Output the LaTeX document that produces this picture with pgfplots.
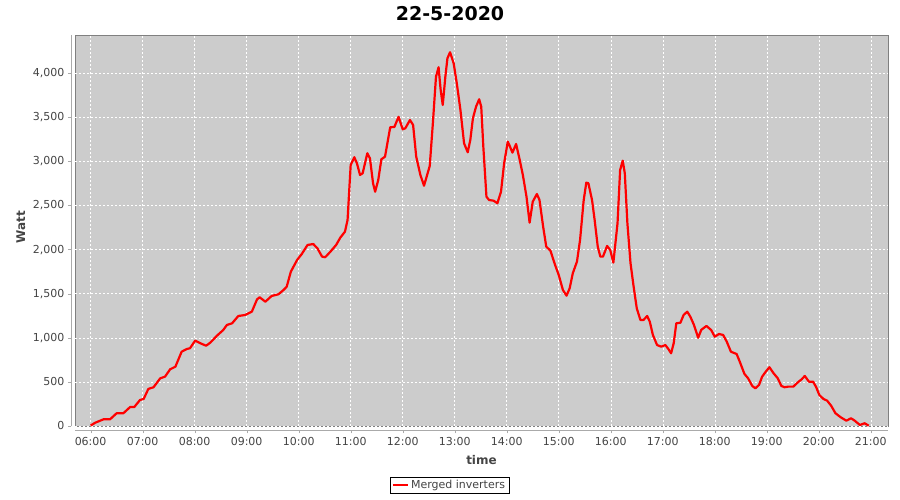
\documentclass[border=0pt]{standalone}
\usepackage{fontspec}
\setmainfont{DejaVu Sans}
\usepackage{pgfplots}
\pgfplotsset{compat=1.18}
\usepackage{pgfplotstable}

\definecolor{plotbg}{HTML}{CCCCCC}
\definecolor{framegray}{HTML}{808080}
\definecolor{axisgray}{HTML}{AAAAAA}
\definecolor{ticktext}{HTML}{444444}

% power in W, time in decimal hours
\pgfplotstableread{
t     w
6.00  5
6.09  37
6.25  76
6.375 76
6.50  144
6.63  144
6.76  215
6.84  215
6.95  295
7.02  306
7.11  420
7.21  439
7.34  541
7.43  559
7.53  643
7.63  672
7.75  842
7.85  873
7.91  881
8.01  967
8.11  938
8.22  910
8.30  944
8.43  1024
8.55  1088
8.62  1145
8.72  1164
8.84  1247
8.97  1258
9.10  1296
9.20  1436
9.25  1459
9.36  1409
9.48  1474
9.61  1493
9.71  1542
9.77  1579
9.85  1750
9.97  1882
10.06 1950
10.17 2052
10.28 2063
10.36 2015
10.45 1920
10.51 1913
10.61 1976
10.72 2052
10.80 2135
10.89 2203
10.94 2336
10.98 2752
11.00 2959
11.07 3047
11.12 2978
11.18 2846
11.23 2865
11.32 3092
11.37 3035
11.43 2752
11.47 2656
11.53 2789
11.59 3024
11.66 3053
11.76 3387
11.84 3390
11.92 3505
12.00 3364
12.05 3375
12.14 3469
12.20 3413
12.26 3053
12.34 2846
12.41 2724
12.52 2948
12.58 3432
12.64 3960
12.69 4067
12.73 3810
12.77 3639
12.82 3960
12.86 4169
12.91 4237
12.98 4112
13.04 3885
13.11 3583
13.18 3205
13.25 3103
13.30 3243
13.35 3489
13.41 3620
13.47 3704
13.51 3620
13.55 3167
13.61 2600
13.66 2562
13.75 2554
13.82 2525
13.89 2656
13.95 2978
14.02 3223
14.05 3186
14.11 3099
14.18 3197
14.25 3016
14.31 2846
14.38 2600
14.44 2305
14.50 2543
14.58 2630
14.63 2562
14.70 2260
14.76 2033
14.84 1988
14.93 1825
15.00 1712
15.08 1542
15.15 1477
15.21 1561
15.27 1731
15.35 1863
15.41 2109
15.48 2562
15.53 2759
15.57 2752
15.64 2562
15.69 2336
15.75 2033
15.80 1920
15.85 1920
15.93 2041
15.99 1995
16.05 1852
16.13 2297
16.18 2902
16.23 3008
16.27 2865
16.32 2297
16.38 1845
16.44 1579
16.50 1334
16.57 1202
16.63 1202
16.70 1247
16.75 1183
16.81 1032
16.89 918
16.97 899
17.05 918
17.11 870
17.16 824
17.21 938
17.26 1164
17.34 1171
17.40 1258
17.47 1296
17.53 1239
17.60 1145
17.68 1000
17.74 1090
17.84 1134
17.93 1088
18.00 1012
18.08 1043
18.16 1032
18.23 956
18.31 842
18.42 816
18.48 729
18.57 590
18.64 541
18.72 454
18.78 427
18.85 465
18.91 559
18.98 616
19.05 666
19.13 598
19.21 541
19.28 454
19.34 439
19.41 446
19.51 446
19.59 491
19.67 529
19.73 567
19.81 502
19.89 502
19.95 439
20.01 351
20.09 306
20.16 287
20.24 227
20.32 144
20.42 99
20.53 60
20.62 87
20.69 60
20.79 11
20.88 31
20.96 3
}\power

\begin{document}
\begin{tikzpicture}
\useasboundingbox (-75pt,-73.5pt) rectangle (825pt,426.5pt);
\begin{axis}[
  scale only axis, width=813pt, height=391.5pt,
  xmin=5.70, xmax=21.33, ymin=-6, ymax=4433,
  axis background/.style={fill=plotbg, draw=framegray},
  axis lines*=left,
  axis x line shift=4pt, axis y line shift=4pt,
  axis line style={axisgray, -},
  xtick={6,...,21},
  xticklabels={06:00,07:00,08:00,09:00,10:00,11:00,12:00,13:00,14:00,15:00,16:00,17:00,18:00,19:00,20:00,21:00},
  ytick={0,500,...,4000},
  /pgf/number format/1000 sep={,},
  /pgf/number format/assume math mode=true,
  tick align=outside, major tick length=3pt,
  tick style={axisgray},
  ticklabel style={font=\fontsize{11}{13}\selectfont, text=ticktext},
  grid=major, grid style={white, dash pattern=on 2pt off 2pt, line width=0.5pt},
  title={22-5-2020},
  title style={font=\fontsize{19}{22}\selectfont\bfseries,
    at={(axis description cs:0.4613,1)}, anchor=base, yshift=8pt},
  xlabel={time},
  xlabel style={font=\fontsize{12}{14}\selectfont\bfseries, text=ticktext,
    at={(axis description cs:0.5,0)}, anchor=base, yshift=-38.5pt},
  ylabel={Watt},
  ylabel style={font=\fontsize{12}{14}\selectfont\bfseries, text=ticktext,
    at={(axis description cs:-0.0615,0.51)}, anchor=base},
  legend style={at={(axis description cs:0.4606,-0.129)}, anchor=north,
    draw=black, fill=white, font=\fontsize{11}{13}\selectfont,
    inner xsep=2pt, inner ysep=1pt, text=ticktext},
  legend image code/.code={\draw[#1] (0pt,0pt) -- (15pt,0pt);},
]
\addplot[red, line width=2.2pt, line join=round] table[x=t, y=w] {\power};
\addlegendentry{Merged inverters}
\end{axis}
\end{tikzpicture}
\end{document}
